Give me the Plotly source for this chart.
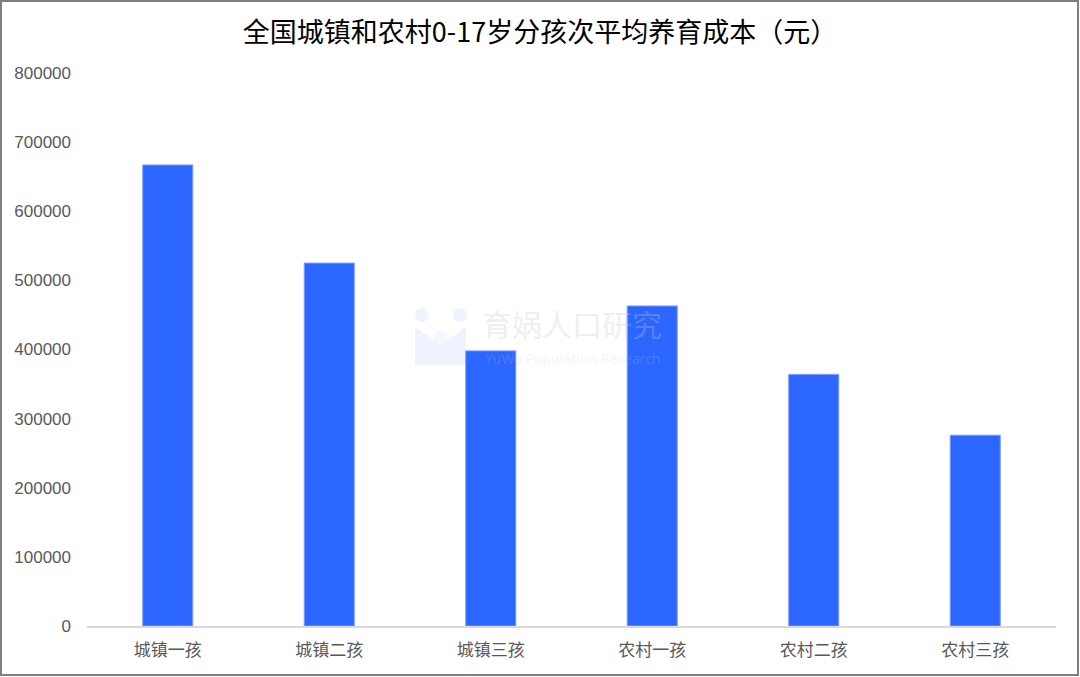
import plotly.graph_objects as go

categories = ["城镇一孩", "城镇二孩", "城镇三孩", "农村一孩", "农村二孩", "农村三孩"]
values = [667000, 525000, 398000, 463000, 364000, 276000]
y_ticks = [0, 100000, 200000, 300000, 400000, 500000, 600000, 700000, 800000]
title_text = "全国城镇和农村0-17岁分孩次平均养育成本（元）"

W, H = 1080, 677
ml, mr, mt, mb = 87, 24, 73, 51
pw, ph = W - ml - mr, H - mt - mb


def px(x):
    return (x - ml) / pw


def py(y):
    return (H - mb - y) / ph


fig = go.Figure()
fig.add_trace(go.Bar(
    x=categories, y=values, width=0.31,
    marker=dict(color="#2B66FF", line=dict(color="#7C9CFF", width=1)),
))

fig.update_layout(
    width=W, height=H,
    margin=dict(l=ml, r=mr, t=mt, b=mb),
    paper_bgcolor="white", plot_bgcolor="white",
    showlegend=False,
    title=dict(text=title_text, x=0.5, xanchor="center", y=1 - 33 / H, yanchor="middle",
               font=dict(family="Noto Sans CJK SC", size=27, color="#000000")),
    xaxis=dict(showgrid=False, showline=True, linecolor="#D9D9D9", linewidth=1.5,
               ticks="", ticklabelstandoff=8,
               tickfont=dict(family="Noto Sans CJK SC", size=17, color="#595959"),
               range=[-0.5, 5.5]),
    yaxis=dict(range=[0, 800000], tickvals=y_ticks, ticktext=[str(v) for v in y_ticks],
               showgrid=False, zeroline=False, showline=False, ticks="",
               ticklabelstandoff=15,
               tickfont=dict(family="Liberation Sans", size=17, color="#595959")),
    bargap=0.69,
)

# outer border
fig.add_shape(type="rect", xref="paper", yref="paper",
              x0=px(1), x1=px(1078), y0=py(675), y1=py(1),
              line=dict(color="#7F7F7F", width=2), fillcolor="rgba(0,0,0,0)", layer="below")

# watermark logo (faint)
wm = "rgba(43,102,255,0.08)"
for cx in (422, 460):
    fig.add_shape(type="circle", xref="paper", yref="paper",
                  x0=px(cx - 7), x1=px(cx + 7), y0=py(322), y1=py(308),
                  line=dict(width=0), fillcolor=wm, layer="below")
fig.add_shape(type="path", xref="paper", yref="paper",
              path=(f"M {px(415)},{py(327)} L {px(441)},{py(345)} L {px(466)},{py(327)} "
                    f"L {px(466)},{py(365)} L {px(415)},{py(365)} Z"),
              line=dict(width=0), fillcolor=wm, layer="below")
fig.add_shape(type="circle", xref="paper", yref="paper",
              x0=px(434), x1=px(447), y0=py(344), y1=py(330),
              line=dict(width=0), fillcolor="rgba(43,102,255,0.05)", layer="below")

fig.add_annotation(text="育娲人口研究", xref="paper", yref="paper",
                   x=px(572), y=py(323), showarrow=False,
                   font=dict(family="Noto Sans CJK SC", size=30, color="rgba(200,200,200,0.3)"))
fig.add_annotation(text="YuWa Population Research", xref="paper", yref="paper",
                   x=px(572), y=py(358), showarrow=False,
                   font=dict(family="Noto Sans", size=14, color="rgba(200,200,200,0.2)"))

fig.write_html("out.html", config={"displayModeBar": False},
               post_script="document.body.style.margin='0';")
